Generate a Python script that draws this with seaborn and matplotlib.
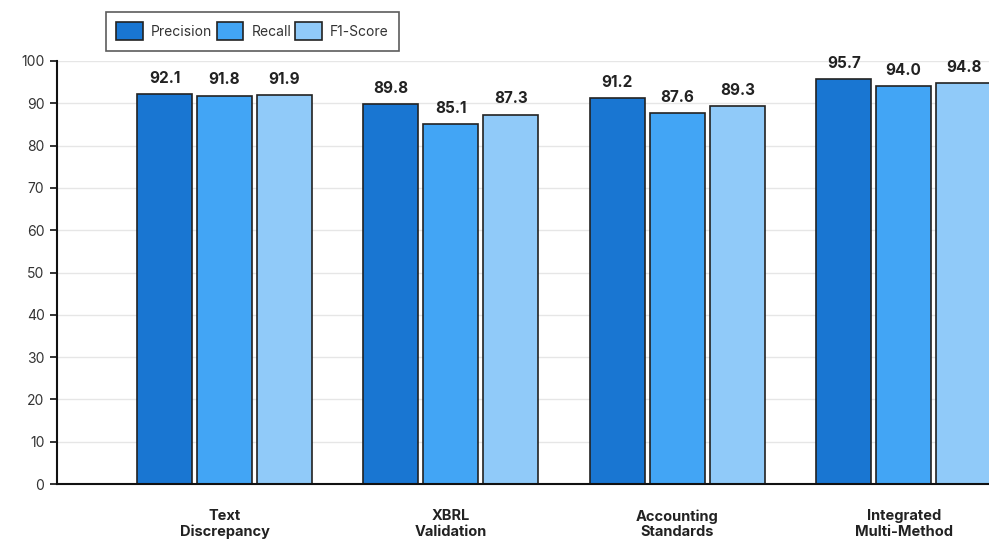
import pandas as pd
import seaborn as sns
import matplotlib.pyplot as plt

# chart data
methods = ['Text\nDiscrepancy', 'XBRL\nValidation', 'Accounting\nStandards', 'Integrated\nMulti-Method']
metrics = ['Precision', 'Recall', 'F1-Score']
precision = [92.1, 89.8, 91.2, 95.7]
recall = [91.8, 85.1, 87.6, 94.0]
f1_score = [91.9, 87.3, 89.3, 94.8]
colors = ['#1976D2', '#42A5F5', '#90CAF9']

df = pd.DataFrame({'Method': methods * 3,
                   'Metric': [m for m in metrics for _ in methods],
                   'Score': precision + recall + f1_score})

sns.set_theme(style='white')
plt.rcParams['font.family'] = ['Inter', 'DejaVu Sans']

fig = plt.figure(figsize=(9.89, 5.40), dpi=100)
ax = fig.add_axes([57/989, 56/540, 1 - 57/989, (484-61)/540])

sns.barplot(data=df, x='Method', y='Score', hue='Metric', palette=colors, saturation=1,
            width=0.795, gap=0.083, edgecolor='#222222', linewidth=1.2, ax=ax, legend=True)

for cont in ax.containers:
    ax.bar_label(cont, fmt='%.1f', padding=6, fontsize=11, fontweight='bold', color='#222222')

ax.set_ylim(0, 100)
ax.set_xlim(-0.74, 3.377)
ax.set_yticks(range(0, 101, 10))
ax.yaxis.grid(True, color='#e6e6e6', linewidth=1)
ax.set_axisbelow(True)
ax.set_xlabel('')
ax.set_ylabel('')
for s in ['top', 'right']:
    ax.spines[s].set_visible(False)
for s in ['left', 'bottom']:
    ax.spines[s].set_color('#111111')
    ax.spines[s].set_linewidth(1.5)
ax.tick_params(axis='y', left=True, length=5, width=1.2, color='#111111', labelsize=10, labelcolor='#333333', pad=4)
ax.tick_params(axis='x', bottom=False, labelsize=10.5, labelcolor='#222222', pad=12)
for lab in ax.get_xticklabels():
    lab.set_fontweight('bold')
    lab.set_linespacing(1.15)

leg = ax.legend(loc='upper left', bbox_to_anchor=(106/989, 1 - 12/540), bbox_transform=fig.transFigure,
                ncol=3, frameon=True, fancybox=False, fontsize=10, handlelength=1.9, handleheight=1.6,
                columnspacing=0.3, handletextpad=0.6, borderpad=0.75, borderaxespad=0)
leg.get_frame().set_edgecolor('#333333')
leg.get_frame().set_linewidth(1.2)
for t in leg.get_texts():
    t.set_color('#333333')

fig.savefig('out.png', dpi=100)
